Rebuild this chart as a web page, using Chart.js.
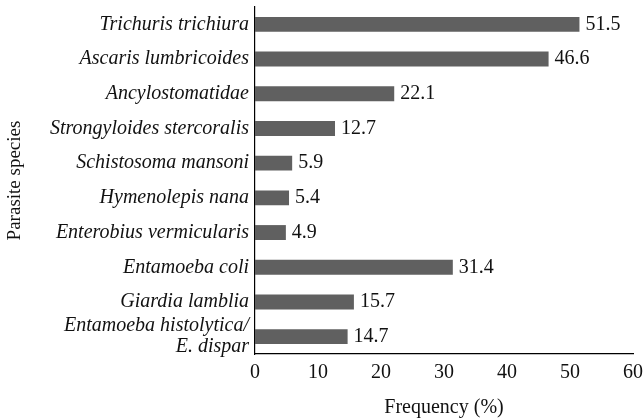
<!DOCTYPE html>
<html>
<head>
<meta charset="utf-8">
<script src="https://cdn.jsdelivr.net/npm/chart.js@4"></script>
<style>
  html, body { margin: 0; padding: 0; background: #fff; }
  #wrap { width: 644px; height: 419px; }
</style>
</head>
<body>
<div id="wrap"><canvas id="chart"></canvas></div>
<script>
const species = [
    "Trichuris trichiura",
    "Ascaris lumbricoides",
    "Ancylostomatidae",
    "Strongyloides stercoralis",
    "Schistosoma mansoni",
    "Hymenolepis nana",
    "Enterobius vermicularis",
    "Entamoeba coli",
    "Giardia lamblia",
    ["Entamoeba histolytica/", "E. dispar"]
];
const frequency = [51.5, 46.6, 22.1, 12.7, 5.9, 5.4, 4.9, 31.4, 15.7, 14.7];
const xTicks = [0, 10, 20, 30, 40, 50, 60];

const serif = "'Liberation Serif', 'DejaVu Serif', serif";

// draws the value next to each bar
const valueLabels = {
    id: "valueLabels",
    afterDatasetsDraw(chart) {
        const ctx = chart.ctx;
        const meta = chart.getDatasetMeta(0);
        ctx.save();
        ctx.font = "20px " + serif;
        ctx.fillStyle = "#111";
        ctx.textBaseline = "middle";
        meta.data.forEach((bar, i) => {
            ctx.fillText(frequency[i].toFixed(1), bar.x + 6, bar.y);
        });
        ctx.restore();
    }
};

const ctx = document.getElementById("chart").getContext("2d");
new Chart(ctx, {
    type: "bar",
    data: {
        labels: species,
        datasets: [{
            data: frequency,
            backgroundColor: "#606060",
            barPercentage: 0.86,
            categoryPercentage: 0.5
        }]
    },
    options: {
        indexAxis: "y",
        responsive: true,
        maintainAspectRatio: false,
        animation: false,
        layout: { padding: { top: 7, right: 11, left: 4, bottom: 0 } },
        plugins: {
            legend: { display: false },
            tooltip: { enabled: false }
        },
        scales: {
            x: {
                min: 0,
                max: 60,
                afterBuildTicks: s => { s.ticks = xTicks.map(v => ({ value: v })); },
                grid: { display: false, drawOnChartArea: false, drawTicks: true, tickLength: 6, tickColor: "#000" },
                border: { color: "#000", width: 1.2 },
                ticks: { color: "#111", font: { family: serif, size: 20 }, padding: 1 },
                title: { display: true, text: "Frequency (%)", color: "#111", font: { family: serif, size: 20 }, padding: { top: 7, bottom: -1 } },
                afterFit: s => { s.height = 65; }
            },
            y: {
                grid: { display: false, drawTicks: false },
                border: { color: "#000", width: 1.2 },
                ticks: { autoSkip: false, color: "#111", font: { family: serif, size: 20, style: "italic", lineHeight: 1.05 }, padding: 6 },
                title: { display: true, text: "Parasite species", color: "#111", font: { family: serif, size: 19 }, padding: 0 },
                afterFit: s => { s.width = 251; s.paddingTop = 0; s.paddingBottom = 0; }
            }
        }
    },
    plugins: [valueLabels]
});
</script>
</body>
</html>
